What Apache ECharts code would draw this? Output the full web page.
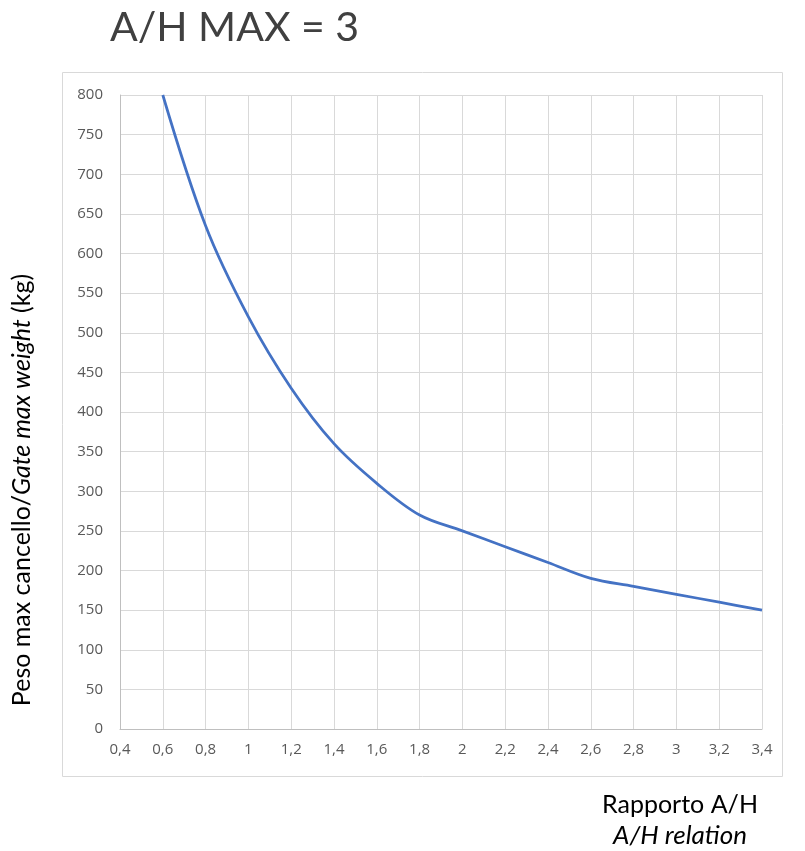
<!DOCTYPE html>
<html>
<head>
<meta charset="utf-8">
<script src="https://cdn.jsdelivr.net/npm/echarts@6/dist/echarts.min.js"></script>
<style>html,body{margin:0;padding:0;background:#fff}#c{width:805px;height:851px}</style>
</head>
<body>
<div id="c"></div>
<script>
var ratios = [0.6, 0.8, 1.0, 1.2, 1.4, 1.6, 1.8, 2.0, 2.2, 2.4, 2.6, 2.8, 3.0, 3.2, 3.4];
var weights = [800, 635, 520, 430, 360, 310, 270, 250, 230, 210, 190, 180, 170, 160, 150];
var titleText = 'A/H MAX = 3';
var yNameA = 'Peso max cancello/';
var yNameB = 'Gate max weight';
var yNameC = ' (kg)';
var xNameLine1 = 'Rapporto A/H';
var xNameLine2 = 'A/H relation';

var FONT = 'Lato, "Noto Sans", sans-serif';
var TICKFONT = '"Open Sans", "Noto Sans", sans-serif';
var chart = echarts.init(document.getElementById('c'));
var fmt = function (v) { return String(Math.round(v * 10) / 10).replace('.', ','); };
chart.setOption({
  animation: false,
  grid: { left: 120, right: 43, top: 95, bottom: 122 },
  xAxis: {
    type: 'value', min: 0.4, max: 3.4, interval: 0.2,
    axisLine: { show: true, lineStyle: { color: '#bfbfbf', width: 1 } },
    axisTick: { show: false },
    axisLabel: { formatter: fmt, color: '#595959', fontSize: 15, margin: 13, fontFamily: TICKFONT },
    splitLine: { show: true, lineStyle: { color: '#d9d9d9', width: 1 } }
  },
  yAxis: {
    type: 'value', min: 0, max: 800, interval: 50,
    axisLine: { show: true, lineStyle: { color: '#bfbfbf', width: 1 } },
    axisTick: { show: false },
    axisLabel: { color: '#595959', fontSize: 15, margin: 17, fontFamily: TICKFONT },
    splitLine: { show: true, lineStyle: { color: '#d9d9d9', width: 1 } }
  },
  series: [{
    type: 'line',
    data: ratios.map(function (r, i) { return [r, weights[i]]; }),
    smooth: 0.35,
    showSymbol: false,
    lineStyle: { color: '#4472C4', width: 2.75 },
    itemStyle: { color: '#4472C4' }
  }],
  graphic: [
    { type: 'rect', shape: { x: 62.5, y: 72.5, width: 720, height: 704 }, style: { fill: 'none', stroke: '#d9d9d9', lineWidth: 1 }, silent: true, z: -1 },
    { type: 'text', x: 110, y: 28, style: { text: titleText, font: '41px ' + FONT, fill: '#404040', align: 'left', verticalAlign: 'middle' } },
    { type: 'text', x: 22, y: 490, rotation: Math.PI / 2,
      style: {
        text: '{a|' + yNameA + '}{b|' + yNameB + '}{a|' + yNameC + '}',
        align: 'center', verticalAlign: 'middle',
        rich: {
          a: { fontSize: 25, fontFamily: FONT, fill: '#000', color: '#000' },
          b: { fontSize: 25, fontFamily: FONT, fontStyle: 'italic', fill: '#000', color: '#000' }
        }
      } },
    { type: 'text', x: 680, y: 805, style: { text: xNameLine1, font: '25px ' + FONT, fill: '#000', align: 'center', verticalAlign: 'middle' } },
    { type: 'text', x: 680, y: 836, style: { text: xNameLine2, font: 'italic 26px ' + FONT, fill: '#000', align: 'center', verticalAlign: 'middle' } }
  ]
});
</script>
</body>
</html>
